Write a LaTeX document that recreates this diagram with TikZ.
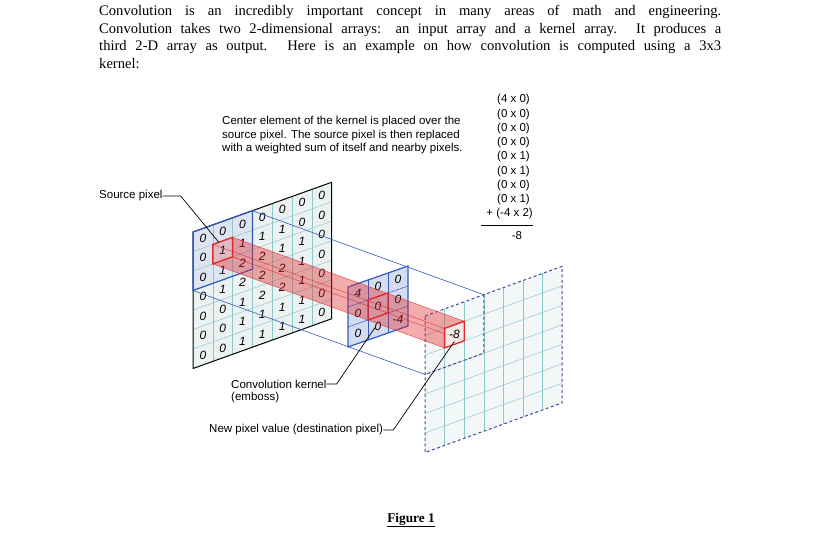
\documentclass[tikz,border=0pt]{standalone}
\usepackage{fontspec}
\usetikzlibrary{calc}
\setmainfont{Liberation Serif}
\setsansfont{Liberation Sans}
\definecolor{gridteal}{RGB}{140,200,200}
\definecolor{planeblue}{RGB}{50,90,190}
\definecolor{kfill}{RGB}{212,220,240}
\definecolor{wfill}{RGB}{222,228,242}
\definecolor{pfill}{RGB}{236,241,241}
\definecolor{dashblue}{RGB}{70,70,160}
\definecolor{beamred}{RGB}{225,40,40}
\tikzset{
  num/.style={font=\fontsize{12}{12}\sffamily\itshape, inner sep=0pt},
  lbl/.style={font=\fontsize{11.5}{13.5}\sffamily, inner sep=0pt, anchor=west},
  grid line/.style={gridteal, line width=0.5pt},
  face/.style={fill=beamred, fill opacity=0.22, draw=beamred, draw opacity=0.5, line width=0.4pt},
  leader/.style={black, line width=0.7pt},
  proj/.style={planeblue, line width=0.6pt}
}
\begin{document}
\begin{tikzpicture}[x=1pt,y=-1pt]
\useasboundingbox (0,0) rectangle (817,537);
% paragraph
\node[anchor=north west, inner sep=0pt, text width=622pt, align=justify,
  font=\fontsize{14.6}{17.6}\selectfont] (para) at (99,5)
 {Convolution is an incredibly important concept in many areas of math and engineering.\linebreak
  Convolution takes two 2-dimensional arrays: an input array and a kernel array. It produces a\linebreak
  third 2-D array as output. Here is an example on how convolution is computed using a 3x3\linebreak
  kernel:};
% right column
\foreach \t [count=\i from 0] in {(4 x 0),(0 x 0),(0 x 0),(0 x 0),(0 x 1),(0 x 1),(0 x 0),(0 x 1)}
  \node[lbl] (sum\i) at (497,{100+14.25*\i}) {\t};
\node[lbl, anchor=east] (sum8) at (533,214) {+ (-4 x 2)};
\draw[line width=0.6pt] (481,225) -- (533,225);
\node[lbl, anchor=center] (res) at (517,236) {-8};
% caption text
\node[lbl, anchor=north west, align=left] (cap) at (222,116)
 {Center element of the kernel is placed over the\\source pixel. The source pixel is then replaced\\with a weighted sum of itself and nearby pixels.};

% ---------- source plane
\begin{scope}[shift={(193,232)}, x={(19.8,-7.1)}, y={(0,19.5)}]
  \fill[pfill] (0,0) -- (7,0) -- (7,7) -- (0,7) -- cycle;
  \fill[wfill] (0,0) -- (3,0) -- (3,3) -- (0,3) -- cycle;
  \foreach \k in {1,...,6} {\draw[grid line] (\k,0) -- (\k,7); \draw[grid line] (0,\k) -- (7,\k);}
  \draw[black, line width=1pt] (0,0) -- (7,0) -- (7,7) -- (0,7) -- cycle;
  \draw[planeblue, line width=1.2pt] (0,0) -- (3,0) -- (3,3) -- (0,3) -- cycle;
  \foreach \row [count=\r from 0] in {{0,0,0,0,0,0,0},{0,1,1,1,1,0,0},{0,1,2,2,1,1,0},{0,1,2,2,2,1,0},{0,0,1,2,2,1,0},{0,0,1,1,1,1,0},{0,0,1,1,1,1,0}}
    \foreach \v [count=\c from 0] in \row
      \node[num] (s-\c-\r) at (\c+.5,\r+.5) {\v};
  \coordinate (sA) at (1,1); \coordinate (sB) at (2,1);
  \coordinate (sC) at (2,2); \coordinate (sD) at (1,2);
  \coordinate (sTR) at (3,0); \coordinate (sBL) at (0,3);
  \coordinate (sp) at (1.3,1.0);
\end{scope}

% ---------- destination plane
\begin{scope}[shift={(425,316)}, x={(19.6,-7.1)}, y={(0,19.5)}]
  \fill[pfill!60!white] (0,0) -- (7,0) -- (7,7) -- (0,7) -- cycle;
  \foreach \k in {1,...,6} {\draw[grid line] (\k,0) -- (\k,7); \draw[grid line] (0,\k) -- (7,\k);}
  \draw[dashblue, line width=1pt, dash pattern=on 3pt off 2.5pt] (0,0) -- (7,0) -- (7,7) -- (0,7) -- cycle;
  \draw[dashblue, line width=1pt, dash pattern=on 3pt off 2.5pt] (3,0) -- (3,3) -- (0,3);
  \coordinate (dA) at (1,1); \coordinate (dB) at (2,1);
  \coordinate (dC) at (2,2); \coordinate (dD) at (1,2);
  \coordinate (dTR) at (3,0); \coordinate (dBL) at (0,3);
  \coordinate (dp) at (1.5,1.85);
\end{scope}

% projection lines
\draw[proj] (sTR) -- (dTR);
\draw[proj] (sBL) -- (dBL);

% ---------- kernel
\begin{scope}[shift={(348,287)}, x={(20,-7)}, y={(0,20)}]
  \fill[kfill] (0,0) -- (3,0) -- (3,3) -- (0,3) -- cycle;
  \foreach \k in {1,2} {\draw[planeblue, line width=0.5pt] (\k,0) -- (\k,3); \draw[planeblue, line width=0.5pt] (0,\k) -- (3,\k);}
  \draw[planeblue, line width=1.2pt] (0,0) -- (3,0) -- (3,3) -- (0,3) -- cycle;
  \foreach \row [count=\r from 0] in {{4,0,0},{0,0,0},{0,0,-4}}
    \foreach \v [count=\c from 0] in \row
      \node[num] (k-\c-\r) at (\c+.5,\r+.5) {\v};
  \coordinate (kA) at (1,1); \coordinate (kB) at (2,1);
  \coordinate (kC) at (2,2); \coordinate (kD) at (1,2);
  \coordinate (kp) at (1.35,2.5);
\end{scope}

% ---------- beam
\draw[face] (sA) -- (sB) -- (dB) -- (dA) -- cycle;
\draw[face] (sD) -- (sC) -- (dC) -- (dD) -- cycle;
\draw[face] (sA) -- (sD) -- (dD) -- (dA) -- cycle;
\draw[face] (sB) -- (sC) -- (dC) -- (dB) -- cycle;
\draw[beamred, line width=1.3pt] (sA) -- (sB) -- (sC) -- (sD) -- cycle;
\draw[beamred, line width=1.3pt] (kA) -- (kB) -- (kC) -- (kD) -- cycle;
\fill[white, fill opacity=0.6] (dA) -- (dB) -- (dC) -- (dD) -- cycle;
\draw[beamred, line width=1.3pt] (dA) -- (dB) -- (dC) -- (dD) -- cycle;
\node[num] (dres) at ($ (dA)!0.5!(dC) $) {-8};

% ---------- labels
\node[lbl] (srcl) at (99,196) {Source pixel};
\draw[leader] (srcl.east) -- ++(18,0) -- (sp);
\node[lbl] (kl1) at (231,384) {Convolution kernel};
\node[lbl] (kl2) at (231,398) {(emboss)};
\draw[leader] (kl1.east) -- ++(10,0) -- (kp);
\node[lbl] (npl) at (209,430) {New pixel value (destination pixel)};
\draw[leader] (npl.east) -- ++(10,0) -- (dp);

\node[font=\fontsize{13.3}{16}\selectfont\bfseries, inner sep=0pt] (fig) at (411,520) {\underline{Figure 1}};
\end{tikzpicture}
\end{document}
